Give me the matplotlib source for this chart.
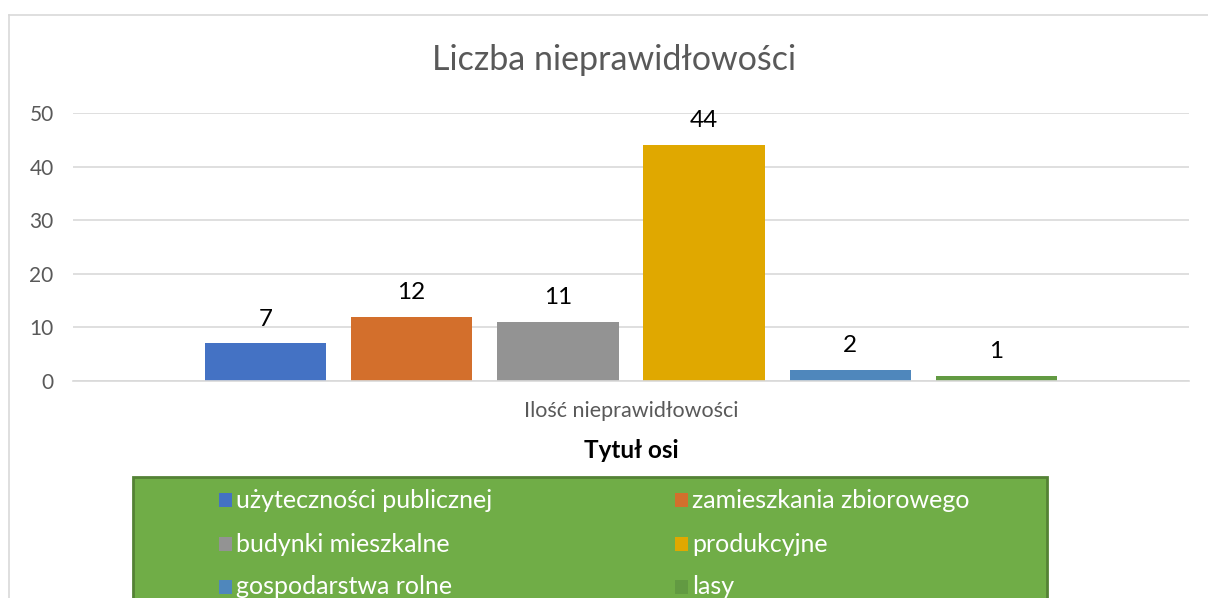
import matplotlib.pyplot as plt
from matplotlib.patches import Rectangle
from matplotlib.lines import Line2D

plt.rcParams["font.family"] = ["Lato", "DejaVu Sans"]

categories = [
    "użyteczności publicznej",
    "zamieszkania zbiorowego",
    "budynki mieszkalne",
    "produkcyjne",
    "gospodarstwa rolne",
    "lasy",
]
values = [7, 12, 11, 44, 2, 1]
colors = ["#4472C4", "#D36F2C", "#939393", "#E0A800", "#4F87BC", "#629A42"]
y_ticks = [0, 10, 20, 30, 40, 50]

W, H = 1208, 598
fig = plt.figure(figsize=(W / 100, H / 100), dpi=100)


def fx(px):
    return px / W


def fy(py):
    return 1 - py / H


# chart area border (top and left visible)
fig.add_artist(Line2D([fx(9), 1.0], [fy(15), fy(15)], color="#D9D9D9", lw=1.2))
fig.add_artist(Line2D([fx(9), fx(9)], [fy(15), 0.0], color="#D9D9D9", lw=1.2))

ax = fig.add_axes([fx(73), fy(381), fx(1189) - fx(73), fy(113) - fy(381)])

x = list(range(len(values)))
bars = ax.bar(x, values, width=0.83, color=colors, zorder=2)
for rect, v in zip(bars, values):
    ax.text(rect.get_x() + rect.get_width() / 2, v + 2.6, str(v),
            ha="center", va="bottom", fontsize=17.5, color="#000000")

ax.set_xlim(-1.316, 6.316)
ax.set_ylim(0, 50)
ax.set_yticks(y_ticks)
ax.set_yticklabels([str(t) for t in y_ticks], fontsize=15, color="#595959")
ax.tick_params(axis="y", length=0, pad=14)
ax.set_xticks([])
ax.grid(axis="y", color="#D9D9D9", lw=1.2, zorder=0)
for s in ["top", "right", "left"]:
    ax.spines[s].set_visible(False)
ax.spines["bottom"].set_color("#D9D9D9")
ax.spines["bottom"].set_linewidth(1.2)

fig.text(fx(614), fy(60), "Liczba nieprawidłowości", ha="center", va="center",
         fontsize=24.5, color="#595959")
fig.text(fx(631), fy(411), "Ilość nieprawidłowości", ha="center", va="center",
         fontsize=15.5, color="#595959")
fig.text(fx(631), fy(451), "Tytuł osi", ha="center", va="center",
         fontsize=17.5, fontweight="bold", color="#000000")

# legend box (cut off at the bottom of the image)
fig.add_artist(Rectangle((fx(133), fy(620)), fx(1047) - fx(133), fy(477) - fy(620),
                         transform=fig.transFigure, facecolor="#70AD47",
                         edgecolor="#548235", lw=2))
col_x = [219, 675]
row_y = [500, 544, 587]
for i, (lab, c) in enumerate(zip(categories, colors)):
    px = col_x[i % 2]
    py = row_y[i // 2]
    fig.add_artist(Rectangle((fx(px), fy(py + 7)), fx(13), fy(0) - fy(14),
                             transform=fig.transFigure, facecolor=c, lw=0))
    fig.text(fx(px + 17), fy(py), lab, ha="left", va="center",
             fontsize=18, color="white")

fig.savefig("out.png", dpi=100)
